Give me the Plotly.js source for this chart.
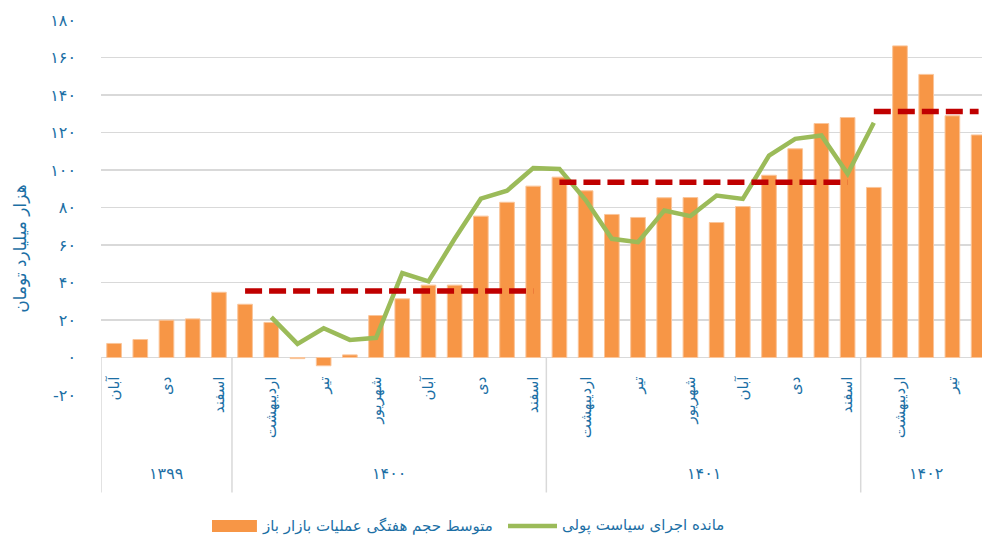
<!DOCTYPE html>
<html>
<head>
<meta charset="utf-8">
<script src="https://cdn.plot.ly/plotly-3.0.1.min.js"></script>
<style>html,body{margin:0;padding:0;background:#fff;}#chart{width:982px;height:539px;}</style>
</head>
<body>
<div id="chart"></div>
<script>
// ---- data ----
const years = ['۱۳۹۹', '۱۴۰۰', '۱۴۰۱', '۱۴۰۲'];
const months1399 = ['آبان', 'آذر', 'دی', 'بهمن', 'اسفند'];
const months1400 = ['فروردین', 'اردیبهشت', 'خرداد', 'تیر', 'مرداد', 'شهریور', 'مهر', 'آبان', 'آذر', 'دی', 'بهمن', 'اسفند'];
const months1401 = ['فروردین', 'اردیبهشت', 'خرداد', 'تیر', 'مرداد', 'شهریور', 'مهر', 'آبان', 'آذر', 'دی', 'بهمن', 'اسفند'];
const months1402 = ['فروردین', 'اردیبهشت', 'خرداد', 'تیر', 'مرداد'];

// متوسط حجم هفتگی عملیات بازار باز (bars)
const omoAvg1399 = [7.5, 9.6, 19.9, 20.6, 34.8];
const omoAvg1400 = [28.4, 18.7, -0.6, -4.4, 1.4, 22.4, 31.3, 38.6, 38.6, 75.4, 82.8, 91.4];
const omoAvg1401 = [96.2, 88.9, 76.3, 74.7, 85.2, 85.3, 72.0, 80.5, 97.2, 111.3, 124.8, 128.0];
const omoAvg1402 = [90.7, 166.2, 151.0, 128.9, 118.7];

// مانده اجرای سیاست پولی (line)
const policy1399 = [null, null, null, null, null];
const policy1400 = [null, 21.5, 7.3, 15.6, 9.4, 10.5, 45.0, 40.6, 63.3, 84.7, 89.0, 101.0];
const policy1401 = [100.6, 84.0, 63.3, 61.5, 78.4, 75.4, 86.4, 84.6, 107.7, 116.6, 118.4, 98.0];
const policy1402 = [125.2, null, null, null, null];

// annual average of bars (red dashed)
const yearAvg = [null, 35.5, 93.5, 131.2];

const yAxisTicks = [-20, 0, 20, 40, 60, 80, 100, 120, 140, 160, 180];
const yAxisTickText = ['-۲۰', '۰', '۲۰', '۴۰', '۶۰', '۸۰', '۱۰۰', '۱۲۰', '۱۴۰', '۱۶۰', '۱۸۰'];

const seriesNames = ['متوسط حجم هفتگی عملیات بازار باز', 'مانده اجرای سیاست پولی'];
const yTitle = 'هزار میلیارد تومان';

// ---- build ----
const monthGroups = [months1399, months1400, months1401, months1402];
const barGroups = [omoAvg1399, omoAvg1400, omoAvg1401, omoAvg1402];
const lineGroups = [policy1399, policy1400, policy1401, policy1402];

const keys = [], monthLabels = [], barVals = [], lineVals = [], groupIdx = [];
monthGroups.forEach((ms, g) => {
  ms.forEach((m, i) => {
    keys.push(years[g] + ' ' + m);
    monthLabels.push(m);
    barVals.push(barGroups[g][i]);
    lineVals.push(lineGroups[g][i]);
    groupIdx.push(g);
  });
});

const tickvals = keys.filter((k, i) => i % 2 === 0);
const ticktext = monthLabels.filter((k, i) => i % 2 === 0);

const BLUE = '#1C6FA5';
const ORANGE = '#F79646';
const GREEN = '#9BBB59';
const FONT = 'DejaVu Sans, Noto Sans, sans-serif';

const traces = [
  {
    type: 'bar', x: keys, y: barVals, name: seriesNames[0],
    marker: {color: ORANGE, line: {color: '#FAC59A', width: 1}},
    hoverinfo: 'skip', showlegend: false
  },
  {
    type: 'scatter', mode: 'lines', x: keys, y: lineVals, name: seriesNames[1],
    line: {color: GREEN, width: 4.5}, connectgaps: false, hoverinfo: 'skip', showlegend: false
  }
];

yearAvg.forEach((v, g) => {
  if (v === null) return;
  const xs = keys.filter((k, i) => groupIdx[i] === g);
  traces.push({
    type: 'scatter', mode: 'lines', x: xs, y: xs.map(() => v),
    line: {color: '#C00000', width: 5.5, dash: '17px,7px'},
    showlegend: false, hoverinfo: 'skip'
  });
});

// separators and year labels
const shapes = [];
const annotations = [];
let start = 0;
monthGroups.forEach((ms, g) => {
  const end = start + ms.length - 1;
  shapes.push({type: 'line', xref: 'x', yref: 'paper', x0: start - 0.5, x1: start - 0.5, y0: 0.1, y1: -0.26,
    line: {color: '#D9D9D9', width: 1.5}});
  annotations.push({xref: 'x', yref: 'paper', x: (start + end) / 2, y: -0.21, text: years[g],
    showarrow: false, xanchor: 'center', yanchor: 'middle', font: {family: FONT, size: 16, color: BLUE}});
  start = end + 1;
});

annotations.push({xref: 'paper', yref: 'paper', x: -0.092, y: 0.39, text: yTitle, textangle: -90,
  showarrow: false, xanchor: 'center', yanchor: 'middle', font: {family: FONT, size: 17, color: BLUE}});

// legend (drawn manually to match wide swatches)
shapes.push({type: 'rect', xref: 'paper', yref: 'paper', x0: 0.126, x1: 0.177, y0: -0.365, y1: -0.333,
  fillcolor: ORANGE, line: {width: 0}});
shapes.push({type: 'line', xref: 'paper', yref: 'paper', x0: 0.462, x1: 0.5176, y0: -0.349, y1: -0.349,
  line: {color: GREEN, width: 4.5}});
annotations.push({xref: 'paper', yref: 'paper', x: 0.1805, y: -0.349, text: seriesNames[0],
  showarrow: false, xanchor: 'left', yanchor: 'middle', font: {family: FONT, size: 15, color: BLUE}});
annotations.push({xref: 'paper', yref: 'paper', x: 0.521, y: -0.349, text: seriesNames[1],
  showarrow: false, xanchor: 'left', yanchor: 'middle', font: {family: FONT, size: 15, color: BLUE}});

const layout = {
  width: 982, height: 539,
  margin: {l: 101, r: 0, t: 20, b: 144, pad: 0},
  paper_bgcolor: '#fff', plot_bgcolor: '#fff',
  font: {family: FONT, color: BLUE},
  bargap: 0.44,
  showlegend: false,
  xaxis: {
    type: 'category', categoryorder: 'array', categoryarray: keys,
    range: [-0.5, 33.13], anchor: 'free', position: 0.1,
    showgrid: false, zeroline: false, showline: false, ticks: '',
    tickmode: 'array', tickvals: tickvals, ticktext: ticktext, tickangle: -90,
    tickfont: {family: FONT, size: 15, color: BLUE}, ticklabelstandoff: 15, automargin: false
  },
  yaxis: {
    range: [-20, 180], tickmode: 'array', tickvals: yAxisTicks, ticktext: yAxisTickText,
    showgrid: true, gridcolor: '#D9D9D9', gridwidth: 1.5,
    zeroline: true, zerolinecolor: '#D9D9D9', zerolinewidth: 1.5,
    showline: false, ticks: '', ticklabelstandoff: 24,
    tickfont: {family: FONT, size: 16, color: BLUE}, automargin: false
  },
  shapes: shapes,
  annotations: annotations
};

Plotly.newPlot('chart', traces, layout, {staticPlot: true, displayModeBar: false});
</script>
</body>
</html>
